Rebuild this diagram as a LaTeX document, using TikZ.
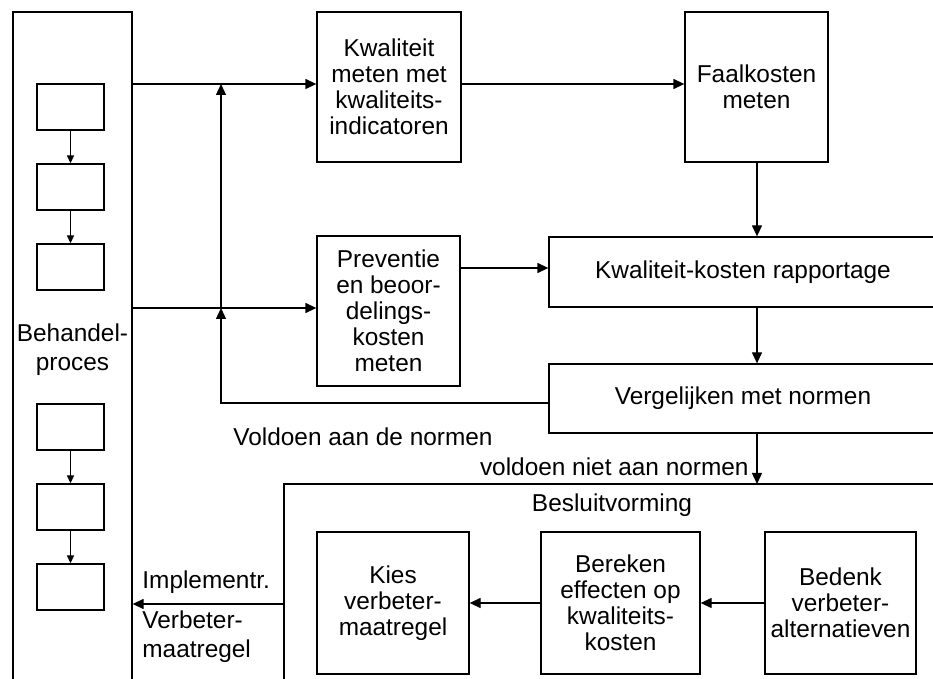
\documentclass[tikz,border=0pt]{standalone}
\usepackage{fontspec}
\setmainfont{Liberation Sans}
\usetikzlibrary{arrows.meta}
\begin{document}
\begin{tikzpicture}[x=0.5pt,y=-0.5pt,
  every node/.style={font=\fontsize{12.2}{13}\selectfont, align=center, inner sep=0pt},
  wide/.style={font=\fontsize{12.2}{14.5}\selectfont},
  box/.style={draw, line width=0.65pt},
  ln/.style={line width=0.65pt},
  arr/.style={ln, -{Triangle[length=5.5pt,width=5pt]}},
  sarr/.style={ln, -{Triangle[length=4pt,width=3.5pt]}}]
\useasboundingbox (0,0) rectangle (933,679);
\clip (0,0) rectangle (933,679);
% left process column
\node[box, minimum width=59.5pt, minimum height=354pt] (beh) at (72.5,366) {};
\node[wide] (behtxt) at (72.5,350) {Behandel-\\proces};
\node[box, minimum width=33.5pt, minimum height=23pt] (s1) at (70.5,107) {};
\node[box, minimum width=33.5pt, minimum height=23pt] (s2) at (70.5,187) {};
\node[box, minimum width=33.5pt, minimum height=23pt] (s3) at (70.5,267) {};
\node[box, minimum width=33.5pt, minimum height=23pt] (s4) at (70.5,427) {};
\node[box, minimum width=33.5pt, minimum height=23pt] (s5) at (70.5,507) {};
\node[box, minimum width=33.5pt, minimum height=23pt] (s6) at (70.5,587) {};
\draw[sarr] (s1) -- (s2);
\draw[sarr] (s2) -- (s3);
\draw[sarr] (s4) -- (s5);
\draw[sarr] (s5) -- (s6);
% measuring boxes
\node[box, minimum width=72pt, minimum height=75pt] (kwal) at (389,87) {Kwaliteit\\meten met\\kwaliteits-\\indicatoren};
\node[box, minimum width=71.5pt, minimum height=75pt] (faal) at (756.5,87) {Faalkosten\\meten};
\node[box, minimum width=71.5pt, minimum height=75pt] (prev) at (388.5,311) {Preventie\\en beoor-\\delings-\\kosten\\meten};
\node[box, minimum width=194pt, minimum height=35pt] (kk) at (743,272) {Kwaliteit-kosten rapportage};
\node[box, minimum width=194pt, minimum height=34.5pt] (verg) at (743,398.5) {Vergelijken met normen};
% decision block
\coordinate (besl) at (284,484);
\draw[ln] (284,700) -- (besl) -- (950,484);
\node (besltxt) at (612,505) {Besluitvorming};
\node[box, minimum width=76pt, minimum height=71pt] (kies) at (393,603) {Kies\\verbeter-\\maatregel};
\node[box, minimum width=79.5pt, minimum height=71pt] (ber) at (620.5,603) {Bereken\\effecten op\\kwaliteits-\\kosten};
\node[box, minimum width=75.5pt, minimum height=71pt] (bed) at (840.5,603) {Bedenk\\verbeter-\\alternatieven};
% junctions
\coordinate (j1) at (221,84);
\coordinate (j2) at (221,308);
\coordinate (j3) at (221,403);
\coordinate (p1) at (0,268);
\coordinate (bt) at (757,484);
\coordinate (bl) at (284,604);
% connectors
\draw[arr] (beh.east |- j1) -- (kwal.west |- j1);
\draw[arr] (beh.east |- j2) -- (prev.west |- j2);
\draw[arr] (kwal.east |- j1) -- (faal.west |- j1);
\draw[arr] (bt |- faal.south) -- (bt |- kk.north);
\draw[arr] (prev.east |- p1) -- (kk.west |- p1);
\draw[arr] (bt |- kk.south) -- (bt |- verg.north);
\draw[arr] (verg.west |- j3) -- (j3) -- (j2);
\draw[arr] (j2) -- (j1);
\draw[arr] (bt |- verg.south) -- (bt);
\draw[arr] (bed.west) -- (ber.east);
\draw[arr] (ber.west) -- (kies.east);
\draw[arr] (bl) -- (beh.east |- bl);
% labels
\node[anchor=east] (vn) at (749,467) {voldoen niet aan normen};
\node (va) at (363,437) {Voldoen aan de normen};
\node[anchor=west] (impl) at (142,582) {Implementr.};
\node[anchor=west, align=left, wide] (vm) at (142,637) {Verbeter-\\maatregel};
\end{tikzpicture}
\end{document}
